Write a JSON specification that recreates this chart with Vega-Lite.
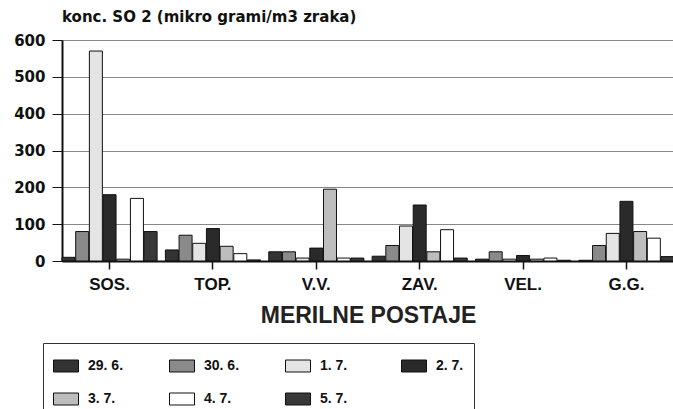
{
  "$schema": "https://vega.github.io/schema/vega-lite/v6.json",
  "width": 612,
  "height": 221,
  "autosize": {"type": "none"},
  "padding": {"left": 62, "top": 40, "right": 0, "bottom": 148},
  "background": "white",
  "title": {
    "text": "konc. SO 2 (mikro grami/m3 zraka)",
    "anchor": "start",
    "frame": "group",
    "offset": 8,
    "font": "DejaVu Sans",
    "fontSize": 15,
    "fontWeight": "bold",
    "color": "#111"
  },
  "data": {
    "values": [
      {"postaja": "SOS.", "datum": "29. 6.", "v": 10},
      {"postaja": "SOS.", "datum": "30. 6.", "v": 80},
      {"postaja": "SOS.", "datum": "1. 7.", "v": 570},
      {"postaja": "SOS.", "datum": "2. 7.", "v": 180},
      {"postaja": "SOS.", "datum": "3. 7.", "v": 5},
      {"postaja": "SOS.", "datum": "4. 7.", "v": 170},
      {"postaja": "SOS.", "datum": "5. 7.", "v": 80},
      {"postaja": "TOP.", "datum": "29. 6.", "v": 30},
      {"postaja": "TOP.", "datum": "30. 6.", "v": 70},
      {"postaja": "TOP.", "datum": "1. 7.", "v": 48},
      {"postaja": "TOP.", "datum": "2. 7.", "v": 88},
      {"postaja": "TOP.", "datum": "3. 7.", "v": 40},
      {"postaja": "TOP.", "datum": "4. 7.", "v": 20},
      {"postaja": "TOP.", "datum": "5. 7.", "v": 3},
      {"postaja": "V.V.", "datum": "29. 6.", "v": 25},
      {"postaja": "V.V.", "datum": "30. 6.", "v": 25},
      {"postaja": "V.V.", "datum": "1. 7.", "v": 8},
      {"postaja": "V.V.", "datum": "2. 7.", "v": 35},
      {"postaja": "V.V.", "datum": "3. 7.", "v": 195},
      {"postaja": "V.V.", "datum": "4. 7.", "v": 8},
      {"postaja": "V.V.", "datum": "5. 7.", "v": 8},
      {"postaja": "ZAV.", "datum": "29. 6.", "v": 13},
      {"postaja": "ZAV.", "datum": "30. 6.", "v": 42},
      {"postaja": "ZAV.", "datum": "1. 7.", "v": 95},
      {"postaja": "ZAV.", "datum": "2. 7.", "v": 152},
      {"postaja": "ZAV.", "datum": "3. 7.", "v": 25},
      {"postaja": "ZAV.", "datum": "4. 7.", "v": 85},
      {"postaja": "ZAV.", "datum": "5. 7.", "v": 8},
      {"postaja": "VEL.", "datum": "29. 6.", "v": 5},
      {"postaja": "VEL.", "datum": "30. 6.", "v": 25},
      {"postaja": "VEL.", "datum": "1. 7.", "v": 5},
      {"postaja": "VEL.", "datum": "2. 7.", "v": 15},
      {"postaja": "VEL.", "datum": "3. 7.", "v": 5},
      {"postaja": "VEL.", "datum": "4. 7.", "v": 8},
      {"postaja": "VEL.", "datum": "5. 7.", "v": 2},
      {"postaja": "G.G.", "datum": "29. 6.", "v": 2},
      {"postaja": "G.G.", "datum": "30. 6.", "v": 42},
      {"postaja": "G.G.", "datum": "1. 7.", "v": 75},
      {"postaja": "G.G.", "datum": "2. 7.", "v": 162},
      {"postaja": "G.G.", "datum": "3. 7.", "v": 80},
      {"postaja": "G.G.", "datum": "4. 7.", "v": 62},
      {"postaja": "G.G.", "datum": "5. 7.", "v": 12}
    ]
  },
  "mark": {"type": "bar", "stroke": "#111", "strokeWidth": 1},
  "encoding": {
    "x": {
      "field": "postaja",
      "type": "nominal",
      "sort": ["SOS.", "TOP.", "V.V.", "ZAV.", "VEL.", "G.G."],
      "scale": {"paddingInner": 0.08, "paddingOuter": 0},
      "axis": {
        "title": "MERILNE POSTAJE",
        "titleFont": "Liberation Sans",
        "titleFontSize": 23,
        "titleFontWeight": "bold",
        "titleColor": "#222",
        "titlePadding": 12,
        "labelAngle": 0,
        "labelFont": "Liberation Sans",
        "labelFontSize": 17,
        "labelFontWeight": "bold",
        "labelColor": "#111",
        "labelPadding": 7,
        "domainColor": "#111",
        "domainWidth": 2,
        "tickColor": "#111",
        "tickSize": 8,
        "tickWidth": 1.5
      }
    },
    "xOffset": {
      "field": "datum",
      "type": "nominal",
      "sort": ["29. 6.", "30. 6.", "1. 7.", "2. 7.", "3. 7.", "4. 7.", "5. 7."],
      "scale": {"paddingInner": 0.05, "paddingOuter": 0}
    },
    "y": {
      "field": "v",
      "type": "quantitative",
      "scale": {"domain": [0, 600], "nice": false},
      "axis": {
        "title": null,
        "values": [0, 100, 200, 300, 400, 500, 600],
        "labelFont": "DejaVu Sans",
        "labelFontSize": 15,
        "labelFontWeight": "bold",
        "labelColor": "#111",
        "labelPadding": 7,
        "ticks": true,
        "tickSize": 10,
        "tickColor": "#111",
        "tickWidth": 1,
        "domainColor": "#111",
        "domainWidth": 2,
        "gridColor": "#888",
        "gridWidth": 1
      }
    },
    "color": {
      "field": "datum",
      "type": "nominal",
      "sort": ["29. 6.", "30. 6.", "1. 7.", "2. 7.", "3. 7.", "4. 7.", "5. 7."],
      "scale": {
        "domain": ["29. 6.", "30. 6.", "1. 7.", "2. 7.", "3. 7.", "4. 7.", "5. 7."],
        "range": ["#333333", "#8a8a8a", "#e4e4e4", "#2a2a2a", "#bdbdbd", "#ffffff", "#383838"]
      },
      "legend": {
        "title": null,
        "orient": "none",
        "direction": "horizontal",
        "legendX": -19,
        "legendY": 303,
        "columns": 4,
        "gridAlign": "all",
        "columnPadding": 43,
        "rowPadding": 12,
        "padding": 10,
        "strokeColor": "#333",
        "fillColor": "white",
        "symbolType": "M-1,-0.48H1V0.48H-1Z",
        "symbolSize": 625,
        "symbolStrokeColor": "#111",
        "symbolStrokeWidth": 1,
        "symbolOpacity": 1,
        "labelFont": "Liberation Sans",
        "labelFontSize": 14,
        "labelFontWeight": "bold",
        "labelColor": "#111",
        "labelOffset": 9
      }
    }
  },
  "config": {
    "view": {"stroke": null},
    "axisY": {"grid": true},
    "axisX": {"grid": false}
  }
}
